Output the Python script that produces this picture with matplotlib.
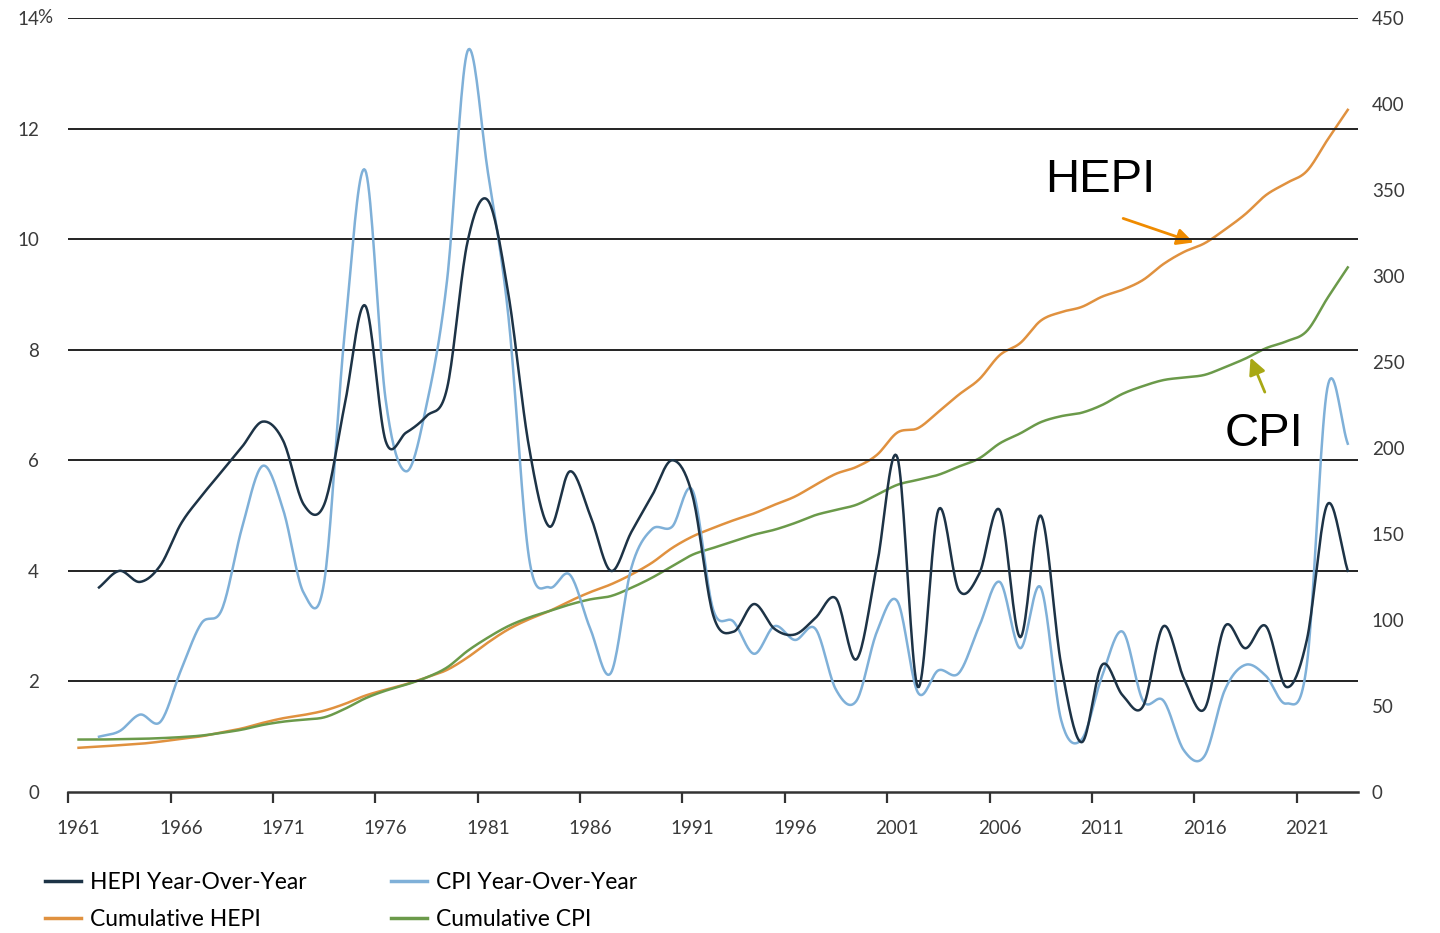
import numpy as np
import matplotlib.pyplot as plt
from matplotlib.lines import Line2D

# Datos
years = list(range(1961, 2024))
yoy_years = list(range(1962, 2024))

hepi_yoy = [3.7, 4.0, 3.8, 4.1, 4.85, 5.35, 5.8, 6.25, 6.7, 6.35,
            5.2, 5.2, 7.0, 8.8, 6.35, 6.5, 6.8, 7.3, 9.95, 10.7,
            9.0, 6.25, 4.8, 5.8, 5.0, 4.0, 4.7, 5.35, 6.0, 5.35,
            3.2, 2.9, 3.4, 2.95, 2.85, 3.15, 3.5, 2.4, 4.1, 6.05,
            1.9, 5.1, 3.65, 3.95, 5.1, 2.8, 5.0, 2.3, 0.9, 2.3,
            1.75, 1.55, 3.0, 2.05, 1.5, 3.0, 2.6, 3.0, 1.9, 2.75,
            5.2, 4.0]

cpi_yoy = [1.0, 1.1, 1.4, 1.27, 2.2, 3.05, 3.3, 4.8, 5.9, 5.1,
           3.6, 3.8, 8.3, 11.25, 7.1, 5.8, 7.0, 9.25, 13.4, 11.2,
           8.6, 4.25, 3.7, 3.93, 2.95, 2.15, 4.05, 4.75, 4.8, 5.45,
           3.3, 3.08, 2.5, 3.0, 2.75, 2.95, 1.85, 1.65, 2.9, 3.45,
           1.8, 2.2, 2.15, 3.0, 3.8, 2.6, 3.7, 1.3, 0.95, 2.1,
           2.9, 1.65, 1.65, 0.75, 0.65, 1.85, 2.3, 2.1, 1.6, 2.3,
           7.3, 6.3]

hepi_cum = [25.7, 26.4, 27.2, 28.0, 29.3, 30.9, 32.4, 34.7, 37.0, 40.2,
            42.9, 44.8, 47.3, 51.2, 56.0, 59.5, 62.7, 66.6, 71.0, 78.2,
            86.9, 94.6, 100.4, 105.2, 111.0, 116.2, 120.7, 126.4, 133.2, 141.9,
            148.6, 153.5, 158.0, 162.0, 167.0, 171.8, 178.6, 185.0, 189.0, 196.0,
            209.0, 211.5, 221.0, 231.0, 240.0, 254.0, 261.0, 274.0, 279.0, 282.0,
            288.0, 292.0, 297.7, 307.0, 314.0, 319.0, 327.0, 336.0, 347.0, 354.0,
            361.0, 379.0, 396.6]

cpi_cum = [30.5, 30.5, 30.7, 30.9, 31.3, 31.9, 32.8, 34.4, 36.3, 39.0,
           40.9, 42.1, 43.4, 48.3, 54.4, 58.9, 62.4, 66.6, 72.4, 82.0,
           89.8, 96.5, 101.4, 105.2, 109.0, 112.0, 113.9, 118.7, 124.5, 131.3,
           138.0, 141.9, 145.7, 149.6, 152.5, 156.4, 161.0, 164.0, 167.0, 172.8,
           178.6, 181.5, 184.4, 189.2, 194.0, 202.7, 208.5, 215.0, 218.5, 220.5,
           225.0, 231.5, 236.0, 239.5, 241.0, 242.5, 247.0, 252.0, 258.0, 262.0,
           268.0, 287.0, 305.0]

left_ticks = [0, 2, 4, 6, 8, 10, 12, 14]
right_ticks = [0, 50, 100, 150, 200, 250, 300, 350, 400, 450]
label_years = list(range(1961, 2022, 5))

c_hepi = '#1d3346'
c_cpi = '#7fb0d8'
c_hcum = '#e0913f'
c_ccum = '#6b9a4a'


# Linea suavizada tipo Excel (Catmull-Rom)
def suavizar(x, y, n=20):
    x = np.asarray(x, float)
    y = np.asarray(y, float)
    px = np.concatenate([[2 * x[0] - x[1]], x, [2 * x[-1] - x[-2]]])
    py = np.concatenate([[2 * y[0] - y[1]], y, [2 * y[-1] - y[-2]]])
    t = np.linspace(0, 1, n, endpoint=False)
    xs, ys = [], []
    for i in range(1, len(px) - 2):
        for p, out in ((px, xs), (py, ys)):
            p0, p1, p2, p3 = p[i - 1], p[i], p[i + 1], p[i + 2]
            out.extend(0.5 * (2 * p1 + (-p0 + p2) * t
                              + (2 * p0 - 5 * p1 + 4 * p2 - p3) * t ** 2
                              + (-p0 + 3 * p1 - 3 * p2 + p3) * t ** 3))
    xs.append(x[-1])
    ys.append(y[-1])
    return xs, ys


fig = plt.figure(figsize=(14.4, 9.33), dpi=100)
ax = fig.add_axes([68.3 / 1440, 1 - 792 / 933, (1358 - 68.3) / 1440, (792 - 18) / 933])
ax2 = ax.twinx()

fuente = 'Lato'
gris = '#3a3a3a'

# Lineas del eje derecho (acumulados)
ax2.plot(*suavizar(years, hepi_cum), color=c_hcum, lw=1.8)
ax2.plot(*suavizar(years, cpi_cum), color=c_ccum, lw=1.8)
# Lineas del eje izquierdo (variacion anual)
ax.plot(*suavizar(yoy_years, cpi_yoy), color=c_cpi, lw=1.8, zorder=3)
ax.plot(*suavizar(yoy_years, hepi_yoy), color=c_hepi, lw=1.8, zorder=4)
ax.set_zorder(ax2.get_zorder() + 1)
ax.patch.set_visible(False)

ax.set_xlim(1960.5, 2023.5)
ax.set_ylim(0, 14)
ax2.set_ylim(0, 450)

for v in left_ticks[1:]:
    ax.axhline(v, color='#222222', lw=1.4, zorder=1)

for s in ['top', 'right', 'left']:
    ax.spines[s].set_visible(False)
    ax2.spines[s].set_visible(False)
ax2.spines['bottom'].set_visible(False)
ax.spines['bottom'].set_color('#333333')
ax.spines['bottom'].set_linewidth(1.8)

ax.set_yticks(left_ticks)
ax.set_yticklabels([str(v) for v in left_ticks], fontsize=13.5, color=gris, family=fuente)
ax.tick_params(axis='y', length=0, pad=21)
ax.text(1958.98, 14, '%', fontsize=13.5, color=gris, family=fuente,
        ha='left', va='center')

ax2.set_yticks(right_ticks)
ax2.set_yticklabels([str(v) for v in right_ticks], fontsize=13.5, color=gris, family=fuente)
ax2.tick_params(axis='y', length=0, pad=10)

ax.set_xticks([y - 0.5 for y in label_years])
ax.set_xticklabels([''] * len(label_years))
ax.set_xticks(label_years, minor=True)
ax.set_xticklabels([str(y) for y in label_years], minor=True, fontsize=13.5,
                   color=gris, family=fuente)
ax.tick_params(axis='x', which='major', length=8, width=1.6, color='#333333', direction='out')
ax.tick_params(axis='x', which='minor', length=0, pad=20)

# Anotaciones
ax2.text(2010.9, 356, 'HEPI', fontsize=34, family='Liberation Sans', ha='center', va='center')
ax2.annotate('', xy=(2015.6, 319), xytext=(2011.9, 334),
             arrowprops=dict(arrowstyle='-|>', color='#ef8b00', lw=2, mutation_scale=25))
ax2.text(2018.9, 208, 'CPI', fontsize=34, family='Liberation Sans', ha='center', va='center')
ax2.annotate('', xy=(2018.2, 254), xytext=(2019.0, 231),
             arrowprops=dict(arrowstyle='-|>', color='#a8a814', lw=2, mutation_scale=25))

handles = [Line2D([], [], color=c_hepi, lw=2.5), Line2D([], [], color=c_hcum, lw=2.5),
           Line2D([], [], color=c_cpi, lw=2.5), Line2D([], [], color=c_ccum, lw=2.5)]
labels = ['HEPI Year-Over-Year', 'Cumulative HEPI', 'CPI Year-Over-Year', 'Cumulative CPI']
fig.legend(handles, labels, ncol=2, loc='lower left', bbox_to_anchor=(0.017, -0.019),
           frameon=False, handlelength=1.55, handletextpad=0.4, columnspacing=3.7,
           labelspacing=0.7, prop={'family': fuente, 'size': 16.5})

plt.savefig('out.png', dpi=100)
plt.close()
